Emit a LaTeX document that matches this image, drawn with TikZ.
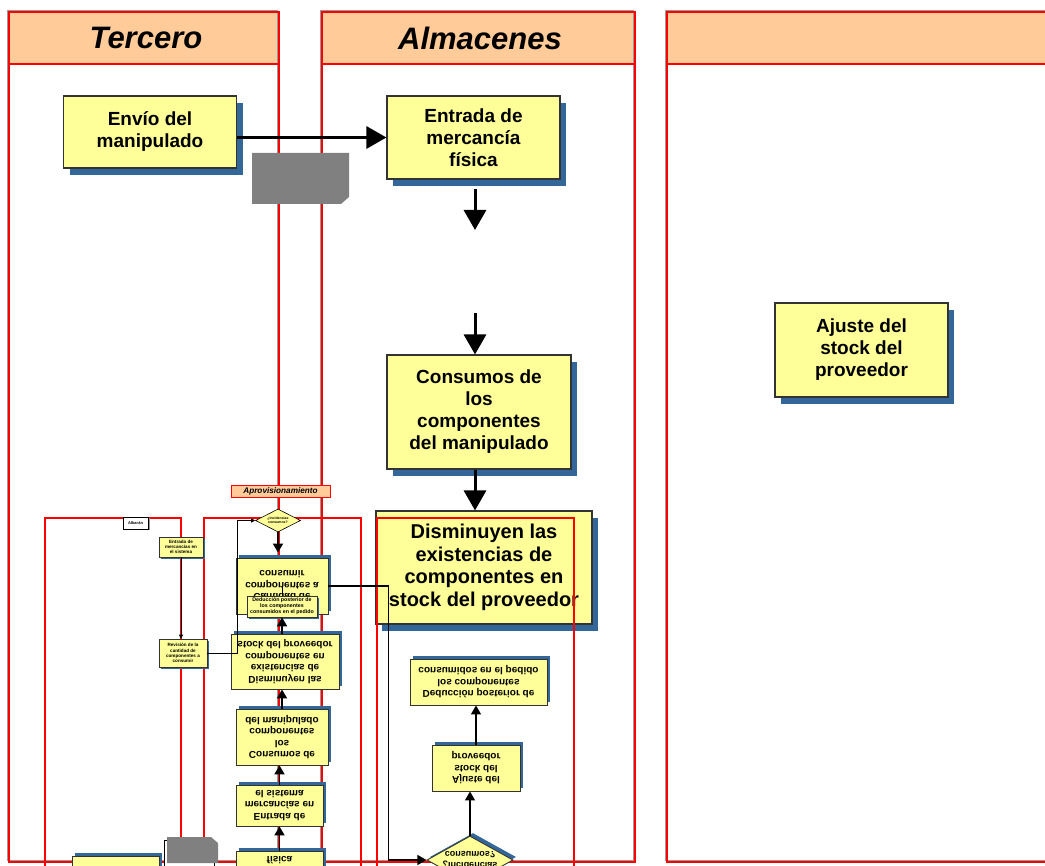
\documentclass[tikz,border=0pt]{standalone}
\usepackage{fontspec}
\setmainfont{Liberation Sans}
\usetikzlibrary{positioning,arrows.meta,shapes.geometric,shadows}
\definecolor{notefill}{HTML}{FFFF99}
\definecolor{notedrop}{HTML}{336699}
\definecolor{headfill}{HTML}{FFCC99}
\definecolor{laneedge}{HTML}{FF0000}
\definecolor{lanegrey}{HTML}{9A9A9A}
\definecolor{docgrey}{HTML}{808080}

\begin{document}
\begin{tikzpicture}[x=1pt, y=-1pt,
  bigbox/.style={draw=black!80, line width=1.1pt, fill=notefill, align=center, inner sep=0pt,
    font=\fontsize{19}{22}\selectfont\bfseries,
    drop shadow={shadow xshift=6pt, shadow yshift=-7pt, fill=notedrop, opacity=1}},
  flipbox/.style={draw=black!80, line width=0.9pt, fill=notefill, align=center, inner sep=0pt,
    font=\fontsize{10}{11.5}\selectfont\bfseries, yscale=-1,
    drop shadow={shadow xshift=3pt, shadow yshift=3pt, fill=notedrop, opacity=1}},
  tinybox/.style={draw=black!80, line width=0.6pt, fill=notefill, align=center, inner sep=0pt,
    font=\fontsize{4.6}{5.3}\selectfont\bfseries,
    drop shadow={shadow xshift=2pt, shadow yshift=-2pt, fill=notedrop, opacity=1}},
  lanehead/.style={font=\fontsize{31}{36}\selectfont\bfseries\itshape},
  bigflow/.style={line width=3pt, -{Triangle[length=20pt,width=22pt]}},
  midflow/.style={line width=1.8pt, -{Triangle[length=9pt,width=10pt]}},
  thinflow/.style={line width=0.8pt, -{Triangle[length=4pt,width=4pt]}},
  overlayline/.style={draw=laneedge, line width=1.2pt}
]
\useasboundingbox (0,0) rectangle (1045,866);
\clip (0,0) rectangle (1045,866);

% swimlanes
\foreach \xa/\xb in {9/279, 322/635, 667/1070}{
  \fill[headfill] (\xa,12) rectangle (\xb,64);
  \draw[lanegrey, line width=1.2pt] (\xa-1.5,10.5) rectangle (\xb-1.5,860.5);
  \draw[laneedge, line width=1.3pt] (\xa,12) rectangle (\xb,862);
  \draw[laneedge, line width=1.3pt] (\xa,64) -- (\xb,64);
}
\node[lanehead] (tercero) at (146,38) {Tercero};
\node[lanehead] (almacenes) at (480,38) {Almacenes};

% main flow
\node[bigbox, minimum width=173pt, minimum height=72pt] (envio) at (150,132) {Envío del\\manipulado};
\node[bigbox, minimum width=173pt, minimum height=83pt] (entrada) at (473.5,137.5) {Entrada de\\mercancía\\física};
\node[bigbox, minimum width=184pt, minimum height=114pt] (consumo) at (479,412) {Consumos de\\los\\componentes\\del manipulado};
\node[bigbox, minimum width=216pt, minimum height=113pt, font=\fontsize{20}{22.5}\selectfont\bfseries] (disminuyen) at (484,567.5) {Disminuyen las\\existencias de\\componentes en\\stock del proveedor};
\node[bigbox, minimum width=173pt, minimum height=94pt] (ajuste) at (861.5,350) {Ajuste del\\stock del\\proveedor};
\fill[docgrey] (252,153) -- (349,153) -- (349,197) -- (341,204) -- (252,204) -- cycle;

\coordinate (dropA) at (475,189);
\coordinate (dropB) at (475,230);
\coordinate (dropC) at (475,313);
\draw[bigflow] (envio.east |- entrada.west) -- (entrada.west);
\draw[bigflow] (dropA) -- (dropB);
\draw[bigflow] (dropC) -- (dropC |- consumo.north);
\draw[bigflow] (consumo.south -| dropC) -- (dropC |- disminuyen.north);

% overlaid copy
\draw[overlayline] (45,880) |- (181,518) -- (181,880);
\draw[overlayline] (204,880) |- (361,518) -- (361,880);
\draw[overlayline] (377,880) |- (574,518) -- (574,880);
\draw[black, line width=1pt, fill=white] (164,840) rectangle (214,866);
\fill[docgrey] (167,837) -- (211,837) -- (218,843) -- (218,863) -- (167,863) -- cycle;

\node[draw=laneedge, fill=headfill, line width=0.8pt, minimum width=99pt, minimum height=12pt, inner sep=0pt, font=\fontsize{8.2}{9}\selectfont\bfseries\itshape] (aprov) at (280.5,491) {Aprovisionamiento};
\node[draw=black, fill=white, line width=0.6pt, minimum width=25pt, minimum height=12pt, inner sep=0pt, font=\fontsize{4}{5}\selectfont\bfseries, drop shadow={shadow xshift=1.5pt, shadow yshift=-1.5pt, fill=black!40, opacity=1}] (albaran) at (135.5,523) {Albarán};
\node[tinybox, minimum width=44pt, minimum height=20pt] (entradaS) at (181,547) {Entrada de\\mercancías en\\el sistema};
\node[tinybox, minimum width=48pt, minimum height=28pt] (revisionS) at (183,653) {Revisión de la\\cantidad de\\componentes a\\consumir};
\node[diamond, aspect=2, draw=black, fill=notefill, line width=0.6pt, minimum width=45pt, minimum height=23pt, inner sep=0pt, align=center, font=\fontsize{3.5}{4}\selectfont\bfseries] (dia1) at (278,520.5) {¿Incidencias\\consumos?};

\node[flipbox, minimum width=92pt, minimum height=56pt] (cantidadF) at (282,586) {Cantidad de\\componentes a\\consumir};
\node[tinybox, font=\fontsize{5.3}{6}\selectfont\bfseries, minimum width=70pt, minimum height=21pt] (deducS) at (282,606.5) {Deducción posterior de\\los componentes\\consumidos en el pedido};
\node[flipbox, minimum width=108pt, minimum height=55pt] (disminF) at (285,661.5) {Disminuyen las\\existencias de\\componentes en\\stock del proveedor};
\node[flipbox, minimum width=92pt, minimum height=56pt] (consumoF) at (282,737) {Consumos de\\los\\componentes\\del manipulado};
\node[flipbox, minimum width=87pt, minimum height=41pt] (entradaF) at (279.5,805.5) {Entrada de\\mercancías en\\el sistema};
\node[flipbox, minimum width=87pt, minimum height=41pt] (fisicaF) at (279.5,871.5) {Entrada de\\mercancía\\física};
\node[flipbox, minimum width=87pt, minimum height=52pt] (envioF) at (115.5,882) {Envío del\\manipulado};
\node[flipbox, minimum width=88pt, minimum height=46pt] (ajusteF) at (476,768) {Ajuste del\\stock del\\proveedor};
\node[flipbox, minimum width=137pt, minimum height=46pt] (deducF) at (478.5,682) {Deducción posterior de\\los componentes\\consumidos en el pedido};
\node[diamond, aspect=1.8, yscale=-1, draw=black!80, fill=notefill, line width=0.9pt, minimum width=86pt, minimum height=48pt, inner sep=0pt, align=center, font=\fontsize{9}{11}\selectfont\bfseries, drop shadow={shadow xshift=3pt, shadow yshift=3pt, fill=notedrop, opacity=1}] (dia2) at (470,860) {¿Incidencias\\consumos?};

\draw[midflow, shorten >=5pt] (dia1.south) -- (dia1.south |- cantidadF.south);
\draw[line width=1pt] (cantidadF.center -| deducS.north) -- (deducS.north);
\draw[midflow] (disminF.south -| deducS.south) -- (deducS.south);
\draw[midflow] (consumoF.south) -- (consumoF.south |- disminF.north);
\draw[midflow] (entradaF.south) -- (entradaF.south |- consumoF.north);
\draw[midflow] (fisicaF.south) -- (fisicaF.south |- entradaF.north);
\draw[thinflow] (entradaS.south) -- (entradaS.south |- revisionS.north);
\draw[thinflow] (revisionS.east) -- ++(30,0) |- (dia1.west);
\draw[midflow, line width=1.2pt] (cantidadF.east) -- ++(60,0) |- (dia2.west);
\draw[midflow, line width=1.4pt] (dia2.south) -- (dia2.south |- ajusteF.north);
\draw[midflow, line width=1.4pt] (ajusteF.south) -- (ajusteF.south |- deducF.north);
\end{tikzpicture}
\end{document}
